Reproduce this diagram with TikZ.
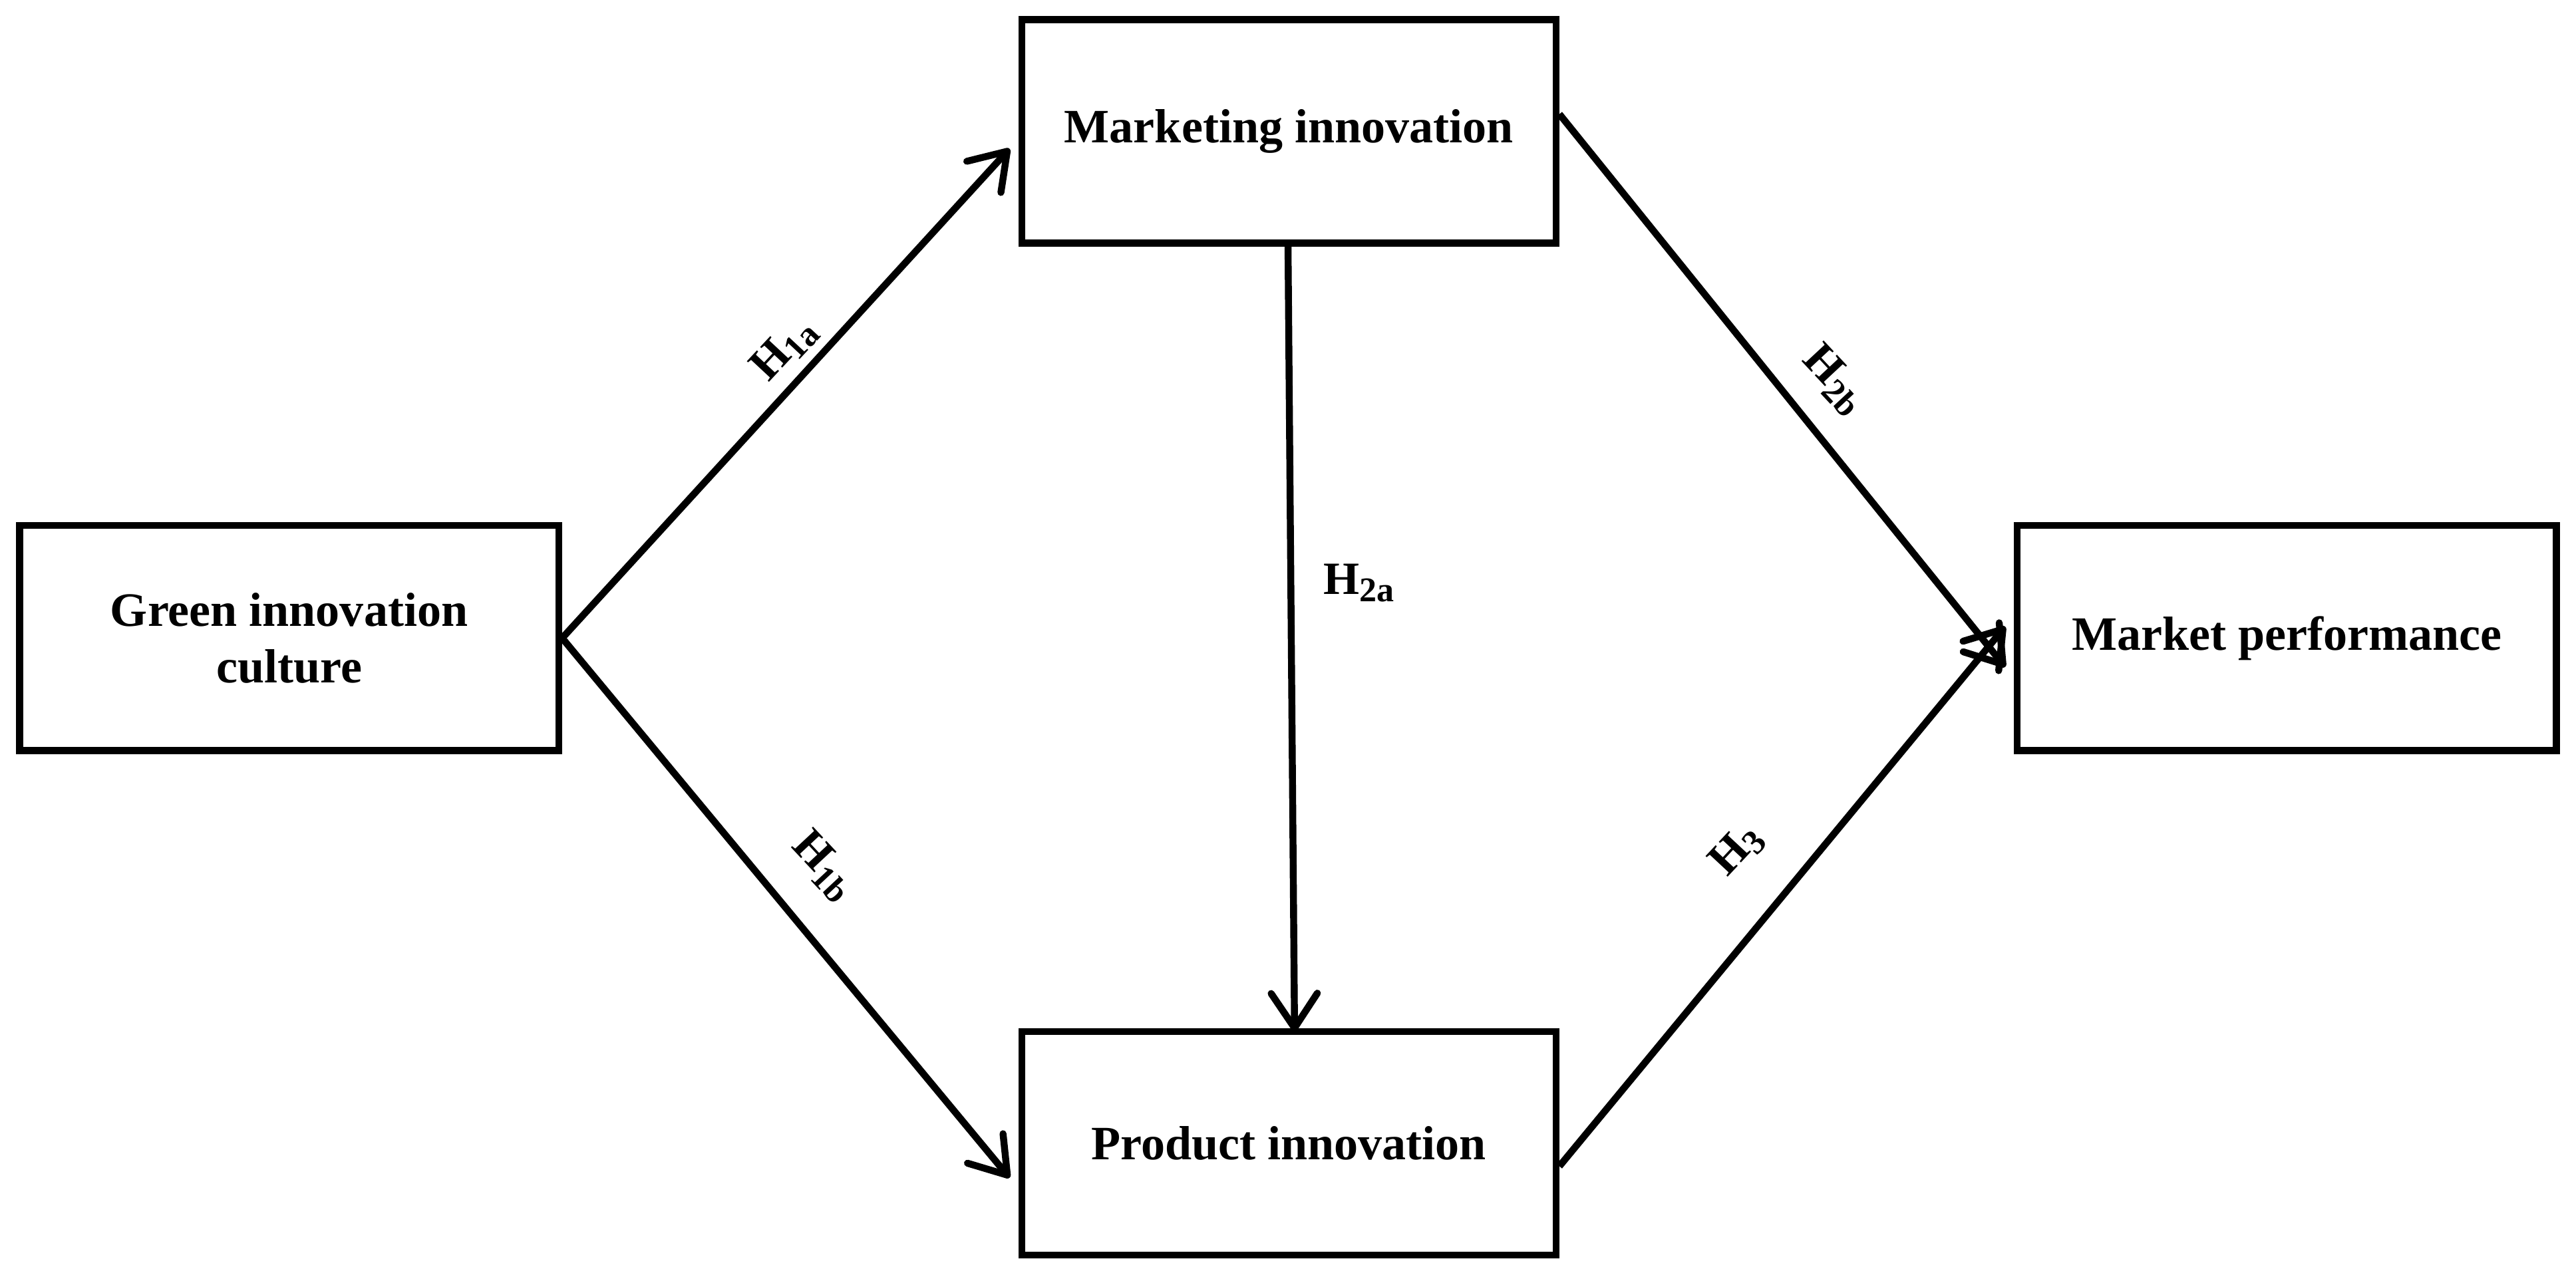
\documentclass[tikz,border=0pt]{standalone}
\usepackage{fontspec}
\setmainfont{Liberation Serif}
\usetikzlibrary{arrows.meta}
\begin{document}
\begin{tikzpicture}[x=0.01cm,y=-0.01cm,
  box/.style={draw,line width=1.2pt,inner sep=0pt,align=center,font=\fontsize{8.3}{9.8}\selectfont\bfseries},
  arr/.style={line width=1.2pt,-{Straight Barb[length=6pt,width=8pt,line width=1.2pt,round]}},
  lab/.style={font=\fontsize{8}{9}\selectfont\bfseries,inner sep=0pt}]
\useasboundingbox (0,0) rectangle (1568,777.5);
\node[box,minimum width=3.28cm,minimum height=1.37cm] (g) at (176,388.5) {Green innovation\\culture};
\node[box,minimum width=3.25cm,minimum height=1.36cm] (m) at (784.5,80) {Marketing innovation};
\node[box,minimum width=3.25cm,minimum height=1.36cm] (p) at (784.5,696) {Product innovation};
\node[box,minimum width=3.28cm,minimum height=1.37cm] (k) at (1392,388.5) {Market performance};
\coordinate (mb) at (784,148);
\coordinate (pt) at (788,628);
\draw[arr] (g.east) -- ([xshift=-1.5,yshift=-3]m.west);
\draw[arr] (g.east) -- ([xshift=-1.5,yshift=-6]p.west);
\draw[arr] (mb) -- (pt);
\draw[arr] ([yshift=3]m.east) -- ([xshift=-1.5,yshift=-5]k.west);
\draw[arr] ([yshift=-4]p.east) -- ([xshift=-1.5,yshift=2]k.west);
\node[lab,rotate=47] (h1a) at (478,212) {H\textsubscript{1a}};
\node[lab,rotate=-47] (h2b) at (1117,232) {H\textsubscript{2b}};
\node[lab] (h2a) at (828,355) {H\textsubscript{2a}};
\node[lab,rotate=-47] (h1b) at (502,528) {H\textsubscript{1b}};
\node[lab,rotate=47] (h3) at (1058,517) {H\textsubscript{3}};
\end{tikzpicture}
\end{document}
